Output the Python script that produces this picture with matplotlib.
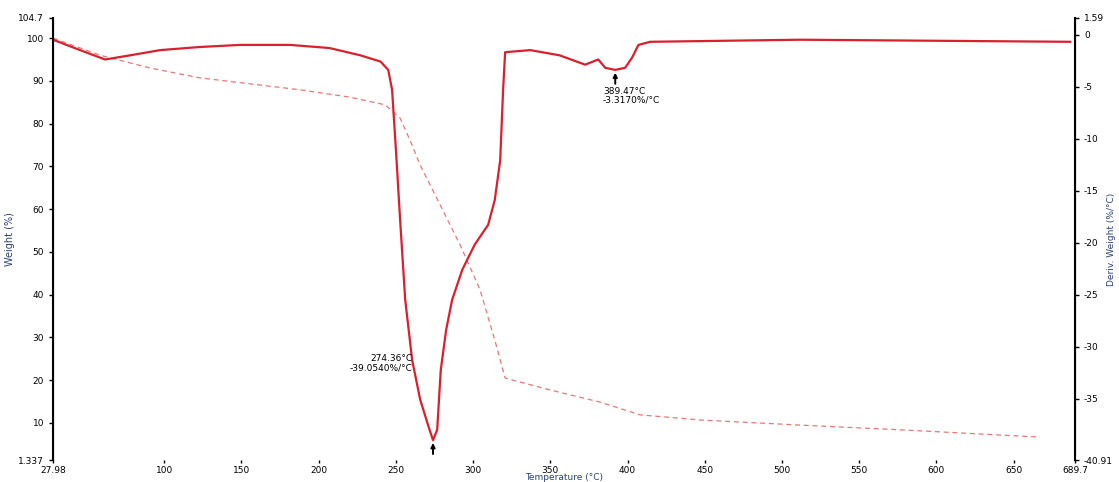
import numpy as np
import matplotlib.pyplot as plt

# temperatura (°C) e massa residual (%)
temp_w = [28.0, 58.4, 90.8, 123, 155.6, 188, 220, 243, 252.7, 259, 265.7, 278.6,
          291.6, 304.5, 314, 320.7, 350, 382, 408, 447, 512, 576.6, 667]
weight = [100.0, 96.0, 93.0, 90.7, 89.3, 87.9, 86.2, 84.4, 81.3, 76.2, 70.3, 61.0,
          51.6, 41.1, 29.4, 20.5, 17.7, 14.9, 11.9, 10.7, 9.5, 8.4, 6.7]

# derivada (%/°C)
temp_d = [28.0, 45.5, 61.7, 77.9, 97.3, 123, 149, 181.5, 207, 227, 240, 245, 247.5,
          250, 252.7, 256, 260.5, 265.7, 270.9, 274, 276.7, 279, 282.5, 286.4, 293,
          301, 309.7, 314, 317.5, 319.4, 320.7, 337, 356, 372.5, 381, 385.5, 392,
          398.4, 403, 407, 414.6, 511.8, 686.6]
deriv = [-0.5, -1.5, -2.4, -2.0, -1.5, -1.2, -1.0, -1.0, -1.3, -2.0, -2.6, -3.4, -5.3,
         -11.1, -17.8, -25.5, -31.3, -35.1, -37.6, -39.0, -38.0, -32.3, -28.4, -25.5,
         -22.6, -20.2, -18.3, -15.9, -12.1, -5.3, -1.7, -1.5, -2.0, -2.9, -2.4, -3.2,
         -3.4, -3.2, -2.2, -1.0, -0.7, -0.5, -0.7]

# limites e rótulos
x_lim = (27.98, 689.7)
w_lim = (1.337, 104.7)
d_lim = (-40.91, 1.590)
x_ticks = [100, 150, 200, 250, 300, 350, 400, 450, 500, 550, 600, 650]
w_ticks = [10, 20, 30, 40, 50, 60, 70, 80, 90, 100]
d_ticks = [-35, -30, -25, -20, -15, -10, -5, 0]

picos = [(274.0, -39.0, '274.36°C\n-39.0540%/°C'),
         (392.0, -3.4, '389.47°C\n-3.3170%/°C')]

vermelho = '#d9202c'
azul = '#2a3f7a'

fig = plt.figure(figsize=(11.19, 4.82), dpi=100)
ax = fig.add_axes([0.0474, 0.0456, 0.9133, 0.9171])
ax2 = ax.twinx()

ax.plot(temp_w, weight, color='#e87878', lw=0.9, ls=(0, (4, 3)))
ax2.plot(temp_d, deriv, color=vermelho, lw=1.6)

ax.set_xlim(*x_lim)
ax.set_ylim(*w_lim)
ax2.set_ylim(*d_lim)

def fmt(v):
    return '%.4g' % v

ax.set_xticks([x_lim[0]] + x_ticks + [x_lim[1]])
ax.set_xticklabels([fmt(x_lim[0])] + [str(t) for t in x_ticks] + [fmt(x_lim[1])])
ax.set_yticks([w_lim[0]] + w_ticks + [w_lim[1]])
ax.set_yticklabels([fmt(w_lim[0])] + [str(t) for t in w_ticks] + [fmt(w_lim[1])])
ax2.set_yticks([d_lim[0]] + d_ticks + [d_lim[1]])
ax2.set_yticklabels([fmt(d_lim[0])] + [str(t) for t in d_ticks] + [fmt(d_lim[1])])

for a in (ax, ax2):
    a.tick_params(labelsize=6.5, length=3, width=1)
    for s in ('top', 'bottom'):
        a.spines[s].set_visible(False)
ax.spines['left'].set_linewidth(1.5)
ax2.spines['right'].set_linewidth(1.5)
ax.tick_params(axis='x', length=2, pad=2)

ax.set_ylabel('Weight (%)', color=azul, fontsize=7, labelpad=2)
ax2.set_ylabel('Deriv. Weight (%/°C)', color=azul, fontsize=6.5)
ax2.yaxis.set_label_coords(1.031, 0.5)
ax.set_xlabel('Temperature (°C)', color=azul, fontsize=6.5, labelpad=-1)

# marcação dos picos
for t, d, txt in picos:
    ax2.annotate('', xy=(t, d), xytext=(t, d - 1.6),
                 arrowprops=dict(arrowstyle='-|>', color='black', lw=1.4,
                                 mutation_scale=6))
ax2.text(261, -31.6, picos[0][2], fontsize=6.5, ha='right', va='center',
         linespacing=1.0)
ax2.text(384, -5.9, picos[1][2], fontsize=6.5, ha='left', va='center',
         linespacing=1.0)

fig.savefig('out.png', dpi=100)
